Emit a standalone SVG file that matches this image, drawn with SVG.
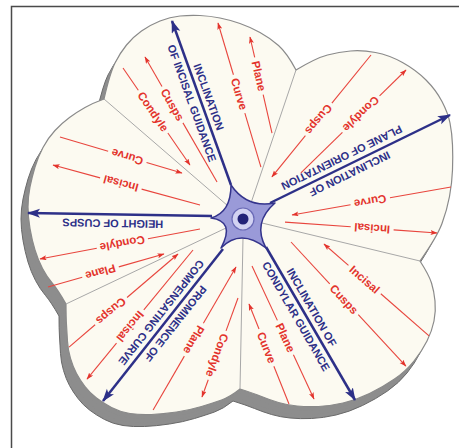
<svg xmlns="http://www.w3.org/2000/svg" width="459" height="448" viewBox="0 0 459 448">
<style>
.r line{stroke:#e8453d;stroke-width:1.1;fill:none}
.r text{font-family:"Liberation Sans",Arial,sans-serif;font-weight:bold;font-size:11.5px;fill:#e3332c;text-anchor:middle}
.b text{font-family:"Liberation Sans",Arial,sans-serif;font-weight:bold;font-size:11px;fill:#2d3088;text-anchor:middle}
.ax{stroke:#2d3088;stroke-width:2.5;fill:none;marker-end:url(#bh)}
.g line{stroke:#a8a8a8;stroke-width:1}
</style>
<defs>
<path id="outline" d="M104,99 Q110,73 115,63 Q120,53 126.5,45 Q133,37 141.5,31 Q150,25 160,21 Q170,17 180,16 Q190,15 200,15.5 Q210,16 220,18 Q230,20 240,23.5 Q250,27 260,32.5 Q270,38 278.5,45.5 Q287,53 296,70 Q316,58 327.5,55 Q339,52 350.5,51 Q362,50 375.5,52.5 Q389,55 402.5,62.5 Q416,70 426,80 Q436,90 442,101.5 Q448,113 450,123 Q452,133 452.5,145 Q453,157 452.5,170 Q452,183 449.5,196.5 Q447,210 442,223.5 Q437,237 420,261 Q429,275 431.5,283 Q434,291 435,301 Q436,311 434,321 Q432,331 427,341 Q422,351 414,361 Q406,371 394.5,379 Q383,387 369.5,393.5 Q356,400 343,403 Q330,406 318.5,406.5 Q307,407 297,406 Q287,405 278.5,402.5 Q270,400 261.5,396.5 Q253,393 240,389 Q230,397 221.5,400 Q213,403 201.5,406.5 Q190,410 176.5,412 Q163,414 151.5,414.5 Q140,415 130,413.5 Q120,412 111.5,407.5 Q103,403 96.5,398 Q90,393 85,386.5 Q80,380 76.5,373.5 Q73,367 70.5,358.5 Q68,350 67.5,341.5 Q67,333 66.5,325 Q66,317 66,304 Q58,290 52.5,283.5 Q47,277 42.5,268.5 Q38,260 35,250 Q32,240 30,228.5 Q28,217 28,207 Q28,197 30,187 Q32,177 35,167 Q38,157 43,147.5 Q48,138 55,130.5 Q62,123 69.5,117.5 Q77,112 85,107.5 Q93,103 104,99 Z"/>
<marker id="bh" markerUnits="userSpaceOnUse" markerWidth="14" markerHeight="10" refX="12" refY="4.5" orient="auto"><path d="M0,0 L13,4.5 L0,9 L3,4.5 Z" fill="#2d3088"/></marker>
<marker id="rh" markerUnits="userSpaceOnUse" markerWidth="8" markerHeight="6" refX="6.5" refY="2.5" orient="auto-start-reverse"><path d="M0,0 L7,2.5 L0,5 L1.5,2.5 Z" fill="#e3332c"/></marker>
</defs>
<rect width="459" height="448" fill="#ffffff"/>
<rect x="11.5" y="6.5" width="470" height="470" fill="none" stroke="#4a4a4a" stroke-width="1.5"/>
<g id="base">
<use href="#outline" transform="translate(-7,12)" fill="#8d8d8d" stroke="#6a6a6a" stroke-width="1"/>
<use href="#outline" transform="translate(-4.7,8)" fill="#8d8d8d"/>
<use href="#outline" transform="translate(-2.3,4)" fill="#8d8d8d"/>
<use href="#outline" fill="#fcfaf1" stroke="#8a8a8a" stroke-width="1.2"/>
</g>
<g id="dividers" class="g">
<line x1="251" y1="203" x2="296" y2="70"/>
<line x1="228" y1="206" x2="104" y2="99"/>
<line x1="226" y1="228" x2="66" y2="304"/>
<line x1="243" y1="238" x2="240" y2="389"/>
<line x1="262" y1="223" x2="420" y2="261"/>
</g>
<g id="lobe-incisal-guidance" class="r">
<g transform="translate(123,68) rotate(55.4)"><line x2="27"/><line x1="79" x2="117.9" marker-end="url(#rh)"/><text x="53" y="4">Condyle</text></g>
<g transform="translate(145,57) rotate(60.05)"><line x2="34" marker-start="url(#rh)"/><line x1="76" x2="144.3"/><text x="55" y="4">Cusps</text></g>
<g transform="translate(218,23) rotate(73.4)"><line x2="54" marker-start="url(#rh)"/><line x1="94" x2="150.3"/><text x="74" y="4">Curve</text></g>
<g transform="translate(250,37) rotate(77.1)"><line x2="21" marker-start="url(#rh)"/><line x1="59" x2="98.5"/><text x="40" y="4">Plane</text></g>
</g>
<g id="lobe-plane-orientation" class="r">
<g transform="translate(371,55) rotate(129.1)"><line x2="62"/><line x1="104" x2="157.1" marker-end="url(#rh)"/><text x="83" y="4">Cusps</text></g>
<g transform="translate(406,70) rotate(135.6)"><line x2="37" marker-start="url(#rh)"/><line x1="89" x2="147.1"/><text x="63" y="4">Condyle</text></g>
<g transform="translate(451,187) rotate(170)"><line x2="62"/><line x1="102" x2="161.4" marker-end="url(#rh)"/><text x="82" y="4">Curve</text></g>
<g transform="translate(437,233) rotate(184.1)"><line x2="43.5" marker-start="url(#rh)"/><line x1="86.5" x2="152.4"/><text x="65" y="4">Incisal</text></g>
</g>
<g id="lobe-condylar-guidance" class="r">
<g transform="translate(324,244) rotate(41.2)"><line x2="32.5" marker-start="url(#rh)"/><line x1="75.5" x2="139.6"/><text x="54" y="4">Incisal</text></g>
<g transform="translate(291,242) rotate(47.2)"><line x2="57"/><line x1="99" x2="169.1" marker-end="url(#rh)"/><text x="78" y="4">Cusps</text></g>
<g transform="translate(252,266) rotate(65)"><line x2="60"/><line x1="98" x2="146.7" marker-end="url(#rh)"/><text x="79" y="4">Plane</text></g>
<g transform="translate(249,304) rotate(68.2)"><line x2="27" marker-start="url(#rh)"/><line x1="67" x2="107.7"/><text x="47" y="4">Curve</text></g>
</g>
<g id="lobe-compensating-curve" class="r">
<g transform="translate(236,267) rotate(120.1)"><line x2="65" marker-start="url(#rh)"/><line x1="103" x2="165.3"/><text x="84" y="4">Plane</text></g>
<g transform="translate(238,298) rotate(110)"><line x2="35"/><line x1="87" x2="105.3" marker-end="url(#rh)"/><text x="61" y="4">Condyle</text></g>
<g transform="translate(193,250) rotate(129.4)"><line x2="77.5"/><line x1="120.5" x2="167" marker-end="url(#rh)"/><text x="99" y="4">Incisal</text></g>
<g transform="translate(178,254) rotate(139.5)"><line x2="67" marker-start="url(#rh)"/><line x1="109" x2="143.3"/><text x="88" y="4">Cusps</text></g>
</g>
<g id="lobe-height-cusps" class="r">
<g transform="translate(182,173) rotate(196.4)"><line x2="37" marker-start="url(#rh)"/><line x1="77" x2="127.2"/><text x="57" y="4">Curve</text></g>
<g transform="translate(200,205) rotate(195.2)"><line x2="60.5"/><line x1="103.5" x2="152.3" marker-end="url(#rh)"/><text x="82" y="4">Incisal</text></g>
<g transform="translate(200,229) rotate(169.4)"><line x2="53"/><line x1="105" x2="162.8" marker-end="url(#rh)"/><text x="79" y="4">Condyle</text></g>
<g transform="translate(164,254) rotate(164.1)"><line x2="47" marker-start="url(#rh)"/><line x1="85" x2="120.6"/><text x="66" y="4">Plane</text></g>
</g>
<g id="axes">
<path class="ax" d="M231,185 L172,21"/>
<path class="ax" d="M270,203 L450,115"/>
<path class="ax" d="M212,216 L28,213"/>
<path class="ax" d="M223,249 L103,401"/>
<path class="ax" d="M266,247 L355,400"/>
</g>
<g id="axis-labels" class="b">
<g transform="translate(200.4,100) rotate(70.2)"><text y="-5">INCLINATION</text><text y="13">OF INCISAL GUIDANCE</text></g>
<g transform="translate(345.8,165.9) rotate(153.9)"><text y="-5">INCLINATION OF</text><text y="13">PLANE OF ORIENTATION</text></g>
<g transform="translate(113,214.6) rotate(181)"><text y="-5">HEIGHT OF CUSPS</text></g>
<g transform="translate(168.5,318.1) rotate(128.3)"><text y="-5">PROMINENCE OF</text><text y="13">COMPENSATING CURVE</text></g>
<g transform="translate(304,311.8) rotate(60)"><text y="-5">INCLINATION OF</text><text y="13">CONDYLAR GUIDANCE</text></g>
</g>
<g id="hub">
<path d="M231,185 Q247,208.6 275,203 Q252.1,222.7 266,248 Q240.5,228 221,248 Q235.6,221.2 211,218 Q231,212.5 231,185 Z" fill="#9a9ad8" stroke="#34348c" stroke-width="1.5" stroke-linejoin="round"/>
<circle cx="243" cy="219" r="11" fill="#d2d2f2" stroke="#6a6ab6" stroke-width="1.2"/>
<circle cx="243" cy="219" r="5.5" fill="#222278"/>
</g>
</svg>
